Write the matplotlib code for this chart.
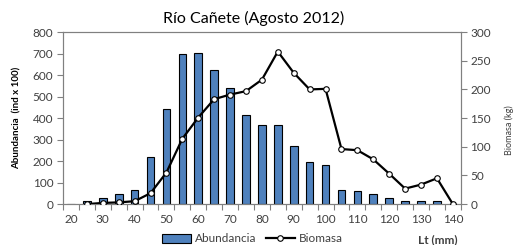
import matplotlib
matplotlib.use("Agg")
import matplotlib.pyplot as plt
from matplotlib.ticker import MultipleLocator
from matplotlib.lines import Line2D
from matplotlib.patches import Patch

plt.rcParams['font.family'] = ['Lato', 'DejaVu Sans']

# talla (mm) y datos
talla = [20, 25, 30, 35, 40, 45, 50, 55, 60, 65, 70, 75, 80,
         85, 90, 95, 100, 105, 110, 115, 120, 125, 130, 135, 140]
abundancia = [0, 13, 28, 46, 66, 217, 440, 697, 705, 625, 541, 413, 370,
              368, 269, 198, 182, 67, 62, 45, 28, 13, 13, 16, 0]
biomasa = [None, 0, 2, 3, 5, 19, 55, 114, 151, 183, 191, 197, 217,
           266, 229, 200, 201, 96, 94, 78, 53, 27, 34, 45, 0]
x_labels = [20, 30, 40, 50, 60, 70, 80, 90, 100, 110, 120, 130, 140]

txt = '#404040'

fig = plt.figure(figsize=(5.18, 2.45), dpi=100)
ax = fig.add_axes([0.1216, 0.167, 0.768, 0.702])

ax.bar(talla, abundancia, width=2.4, color='#4F81BD', edgecolor='black',
       linewidth=0.8, zorder=2)
ax.set_xlim(17.5, 142.5)
ax.set_ylim(0, 800)
ax.yaxis.set_major_locator(MultipleLocator(100))
ax.set_xticks(x_labels)
ax.set_xticks([t - 2.5 for t in talla] + [142.5], minor=True)
ax.tick_params(axis='x', which='major', length=0, pad=7, labelsize=8.5, labelcolor=txt)
ax.tick_params(axis='x', which='minor', length=4, width=0.8, color='#808080')
ax.tick_params(axis='y', length=4, width=0.8, color='#808080', labelsize=8.5,
               labelcolor=txt, pad=3)
for s in ax.spines.values():
    s.set_color('#808080')
    s.set_linewidth(0.8)
ax.set_ylabel('Abundancia  (ind x 100)', fontsize=7, fontweight='bold',
              color='black', labelpad=8)

ax2 = ax.twinx()
bx = [t for t, b in zip(talla, biomasa) if b is not None]
by = [b for b in biomasa if b is not None]
ax2.plot(bx, by, color='black', linewidth=1.6, marker='o', markersize=4,
         markerfacecolor='white', markeredgecolor='black', markeredgewidth=0.8,
         zorder=3)
ax2.set_ylim(0, 300)
ax2.yaxis.set_major_locator(MultipleLocator(50))
ax2.tick_params(axis='y', length=4, width=0.8, color='#808080', labelsize=8.5,
                labelcolor=txt, pad=3)
for s in ax2.spines.values():
    s.set_color('#808080')
    s.set_linewidth(0.8)

fig.text(0.49, 0.925, 'Río Cañete (Agosto 2012)', ha='center', va='center',
         fontsize=11.5, color='black')
fig.text(0.984, 0.47, 'Biomasa (kg)', rotation=90, ha='center', va='center',
         fontsize=6.5, color=txt)
fig.text(0.845, 0.022, 'Lt (mm)', ha='center', va='center', fontsize=8.5,
         fontweight='bold', color=txt)

handles = [Patch(facecolor='#4F81BD', edgecolor='black', linewidth=0.8),
           Line2D([], [], color='black', linewidth=1.6, marker='o', markersize=4,
                  markerfacecolor='white', markeredgecolor='black',
                  markeredgewidth=0.8)]
fig.legend(handles, ['Abundancia', 'Biomasa'], loc='center',
           bbox_to_anchor=(0.487, 0.025), ncol=2, frameon=False, fontsize=8.5,
           handlelength=2.5, handleheight=0.8, columnspacing=0.8,
           handletextpad=0.3, labelcolor=txt)

fig.savefig('out.png', dpi=100)
